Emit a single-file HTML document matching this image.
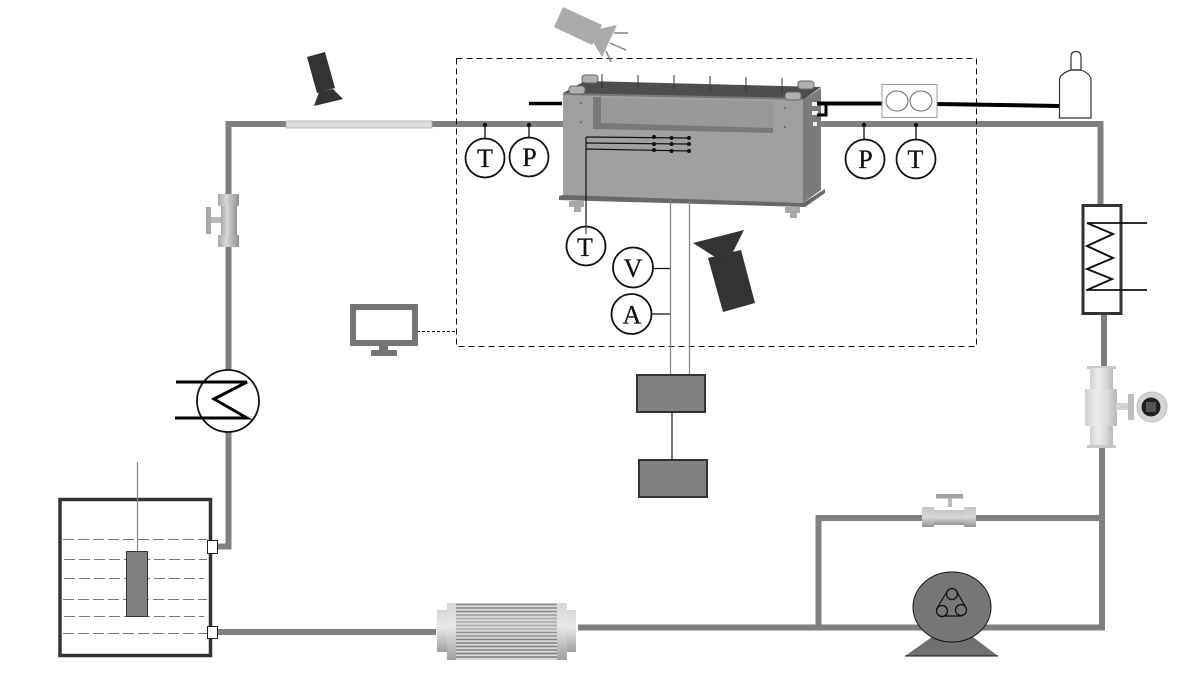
<!DOCTYPE html>
<html>
<head>
<meta charset="utf-8">
<style>
html,body{margin:0;padding:0;background:#fff;width:1186px;height:697px;overflow:hidden}
svg{display:block}
text{font-family:"Liberation Serif",serif;font-size:26px;fill:#111;text-anchor:middle;stroke:#111;stroke-width:.25px}
</style>
</head>
<body>
<svg width="1186" height="697" viewBox="0 0 1186 697" xmlns="http://www.w3.org/2000/svg">
<defs>
<linearGradient id="h" x1="0" x2="1" y1="0" y2="0"><stop offset="0" stop-color="#a8a8a8"/><stop offset=".4" stop-color="#d8d8d8"/><stop offset="1" stop-color="#909090"/></linearGradient>
<linearGradient id="hf" x1="0" x2="1" y1="0" y2="0"><stop offset="0" stop-color="#d0d0d0"/><stop offset=".35" stop-color="#ececec"/><stop offset=".7" stop-color="#dadada"/><stop offset="1" stop-color="#b8b8b8"/></linearGradient>
<linearGradient id="v" x1="0" x2="0" y1="0" y2="1"><stop offset="0" stop-color="#c4c4c4"/><stop offset=".5" stop-color="#d8d8d8"/><stop offset="1" stop-color="#949494"/></linearGradient>
<linearGradient id="fc" x1="0" x2="0" y1="0" y2="1"><stop offset="0" stop-color="#d6d6d6"/><stop offset=".4" stop-color="#e8e8e8"/><stop offset="1" stop-color="#a0a0a0"/></linearGradient>
</defs>

<!-- pipes -->
<g fill="none" stroke="#808080" stroke-width="6">
<path d="M286 124H228.500V370"/>
<path d="M228.500 432V546.500H218"/>
<path d="M432 124H563"/>
<path d="M821 124H1100.500V205"/>
<path d="M1104 314V366"/>
<path d="M1102 446V627.500H578"/>
<path d="M436 632H218"/>
<path d="M1102 518H818.500V628"/>
</g>

<!-- dashed box -->
<rect x="456.500" y="58.500" width="520" height="288" fill="none" stroke="#111" stroke-width="1" stroke-dasharray="6 4"/>
<path d="M417 331.500H456" stroke="#111" stroke-width="1" stroke-dasharray="3 2" fill="none"/>

<!-- glass section -->
<rect x="286" y="121" width="146" height="7" fill="#dedede" stroke="#aaa" stroke-width=".8"/>

<!-- cameras -->
<g fill="#aaaaaa">
<polygon points="563,7 554,27 592,45 602,25"/>
<polygon points="599,29 617,25 602,57 593,42"/>
</g>
<g stroke="#808080" stroke-width="1.500" fill="none">
<path d="M614 33H628M610 43L626 50M606 51L611 62"/>
</g>
<g fill="#333">
<polygon points="307,57 325,52 335,88 317,93"/>
<polygon points="319,92 333,89 343,99 314,106"/>
<polygon points="708,258 741,250 755,303 723,312"/>
<polygon points="693,243 744,230 733,252 718,259"/>
</g>

<!-- stack -->
<polygon points="563,93 585,81 821,87 803,100" fill="#4e4e4e"/>
<polygon points="563,93 803,98 803,101 563,96" fill="#777"/>
<polygon points="563,95 803,100 803,203 563,197" fill="#a0a0a0"/>
<polygon points="803,100 821,88 821,190 803,203" fill="#7a7a7a"/>
<polygon points="601,98 773,101 773,128 601,123" fill="#989898"/>
<polygon points="593,97 601,97 601,123 773,128 773,133 593,129" fill="#787878"/>
<polygon points="559,196 563,195 803,203 825,189 825,193 805,207 559,200" fill="#686868"/>
<g fill="#a8a8a8"><rect x="569" y="201" width="15" height="6"/><rect x="574" y="206" width="7" height="6"/><rect x="785" y="207" width="15" height="6"/><rect x="790" y="212" width="7" height="6"/></g>
<g fill="#b0b0b0" stroke="#666" stroke-width="1">
<rect x="582" y="75" width="16" height="8" rx="3"/><rect x="569" y="86" width="16" height="8" rx="3"/>
<rect x="798" y="81" width="16" height="8" rx="3"/><rect x="785" y="92" width="16" height="8" rx="3"/>
</g>
<g stroke="#333" stroke-width="1" fill="none"><path d="M602 74V88M638 75V88M674 75V90M710 76V91M746 77V92M782 78V93"/></g>
<g fill="#666"><circle cx="581" cy="103" r="1"/><circle cx="581" cy="122" r="1"/><circle cx="785" cy="108" r="1"/><circle cx="785" cy="127" r="1"/></g>
<g fill="#eee"><rect x="812" y="102" width="6" height="4"/><rect x="812" y="111" width="6" height="4"/><rect x="813" y="122" width="4" height="4"/></g>
<!-- wires -->
<g stroke="#111" stroke-width="1.200" fill="none">
<path d="M586 137L689 138M586 143L689 144M586 149L689 151"/>
<path d="M586 137V226"/>
</g>
<g fill="#111">
<circle cx="654" cy="137" r="2"/><circle cx="671.500" cy="138" r="2"/><circle cx="689" cy="138" r="2"/>
<circle cx="654" cy="144" r="2"/><circle cx="671.500" cy="144" r="2"/><circle cx="689" cy="144" r="2"/>
<circle cx="654" cy="150" r="2"/><circle cx="671.500" cy="151" r="2"/><circle cx="689" cy="151" r="2"/>
</g>

<!-- gas line -->
<g stroke="#000" fill="none">
<path d="M529 103.500H562" stroke-width="3.500"/>
<path d="M817 103.500H882" stroke-width="4"/>
<path d="M937 104L1059 106" stroke-width="4"/>
<path d="M817 115H826V104" stroke-width="3"/>
</g>
<rect x="882" y="84.500" width="55" height="33" fill="#fff" stroke="#999" stroke-width="1"/>
<ellipse cx="897" cy="101" rx="11" ry="10" fill="#fff" stroke="#666" stroke-width="1"/>
<ellipse cx="921" cy="101" rx="11" ry="10" fill="#fff" stroke="#666" stroke-width="1"/>
<path d="M1059.500 118V80Q1059.500 74 1071 70V57Q1071 51.500 1076 51.500Q1081 51.500 1081 57V70Q1091 74 1091 80V118Z" fill="#fff" stroke="#333" stroke-width="1.200"/>
<path d="M1071 70H1081" stroke="#333" stroke-width="1.500"/>

<!-- sensors -->
<g stroke="#111" stroke-width="1.300" fill="none">
<path d="M485 125V139M529 125V138M864 125V139M916 125V139"/>
<path d="M653 268.500H670M651 314H670"/>
</g>
<g fill="#111"><circle cx="485" cy="125" r="2.200"/><circle cx="529" cy="125" r="2.200"/><circle cx="864" cy="125" r="2.200"/><circle cx="916" cy="125" r="2.200"/></g>
<g fill="#fff" stroke="#111" stroke-width="1.800">
<circle cx="485" cy="158" r="19.500"/><circle cx="529" cy="157" r="19.500"/>
<circle cx="865" cy="159" r="19.500"/><circle cx="916" cy="159" r="19.500"/>
<circle cx="586" cy="246" r="19.500"/><circle cx="633" cy="267.500" r="20"/><circle cx="631.500" cy="314" r="20"/>
</g>
<path d="M586 226V234" stroke="#444" stroke-width="1.200"/>
<text x="485" y="167">T</text><text x="529.500" y="166">P</text>
<text x="865.500" y="168">P</text><text x="915.500" y="168">T</text>
<text x="585" y="256">T</text><text x="633" y="277">V</text><text x="632" y="323.500">A</text>

<!-- electric lines -->
<g stroke="#888" stroke-width="1.300" fill="none"><path d="M670.500 200V375M689.500 201V375"/></g>
<path d="M672 412V460" stroke="#222" stroke-width="1.200"/>
<rect x="637" y="375" width="68" height="37" fill="#808080" stroke="#333" stroke-width="2"/>
<rect x="639" y="460" width="68" height="37" fill="#808080" stroke="#333" stroke-width="2"/>

<!-- monitor -->
<rect x="353" y="307" width="62" height="36" fill="#fff" stroke="#747474" stroke-width="6"/>
<rect x="379" y="346" width="9" height="5" fill="#747474"/>
<rect x="371" y="350" width="26" height="6" rx="1" fill="#747474"/>

<!-- left valve -->
<rect x="221" y="200" width="16" height="42" fill="url(#h)"/>
<rect x="218" y="194" width="21" height="12" rx="1" fill="url(#h)"/>
<rect x="218" y="235" width="21" height="12" rx="1" fill="url(#h)"/>
<rect x="211" y="217" width="10" height="6" fill="#bbb"/>
<rect x="206" y="207" width="5" height="27" fill="#a8a8a8"/>

<!-- left HX -->
<circle cx="228" cy="401" r="31" fill="#fff" stroke="#111" stroke-width="1.800"/>
<path d="M176 382H247L214 399L247 418H175" fill="none" stroke="#000" stroke-width="3"/>

<!-- right HX -->
<rect x="1083" y="205.500" width="38" height="108" fill="#fff" stroke="#333" stroke-width="3"/>
<path d="M1087 223H1147M1086 290H1147" fill="none" stroke="#111" stroke-width="1.800"/>
<path d="M1087 223L1113 234L1087 246L1113 258L1087 269L1112 279L1087 290" fill="none" stroke="#111" stroke-width="2"/>

<!-- flow meter -->
<rect x="1087" y="366" width="29" height="3" fill="#c8c8c8"/>
<rect x="1090" y="368" width="23" height="21" fill="url(#hf)"/>
<rect x="1085" y="389" width="32" height="37" fill="url(#hf)"/>
<rect x="1090" y="426" width="23" height="20" fill="url(#hf)"/>
<rect x="1087" y="445" width="29" height="3" fill="#c8c8c8"/>
<rect x="1116" y="403" width="14" height="7" fill="#d2d2d2"/>
<rect x="1128" y="394" width="6" height="26" fill="#bfbfbf"/>
<circle cx="1152" cy="407" r="15" fill="#d4d4d4" stroke="#bbb" stroke-width="1"/>
<circle cx="1151" cy="407" r="9.500" fill="#222"/>
<rect x="1146" y="402" width="10" height="10" fill="#555"/>

<!-- bypass valve -->
<rect x="936" y="494" width="27" height="4.500" fill="#a0a0a0"/>
<rect x="948" y="498" width="4" height="9" fill="#bbb"/>
<rect x="930" y="510" width="38" height="15" fill="url(#v)"/>
<rect x="922" y="507" width="12" height="20" rx="1" fill="url(#v)"/>
<rect x="964" y="507" width="12" height="20" rx="1" fill="url(#v)"/>

<!-- pump -->
<polygon points="905,656 998,656 973,637 932,637" fill="#707070"/>
<path d="M905 656H998" stroke="#111" stroke-width="1"/>
<ellipse cx="952" cy="607" rx="39" ry="35" fill="#777" stroke="#111" stroke-width="1"/>
<path d="M948 590L936.500 609L942 616H961L966 608L956 590Z" fill="none" stroke="#111" stroke-width="1.200"/>
<g fill="#777" stroke="#111" stroke-width="1.300"><circle cx="952" cy="594" r="5.500"/><circle cx="942" cy="611" r="5.500"/><circle cx="961" cy="610" r="5.500"/></g>

<!-- filter -->
<rect x="437" y="610" width="10" height="42" fill="url(#fc)"/>
<rect x="447" y="603" width="9" height="57" fill="url(#fc)"/>
<rect x="456" y="603" width="101" height="57" fill="#d8d8d8"/>
<rect x="557" y="603" width="10" height="57" fill="url(#fc)"/>
<rect x="567" y="610" width="9" height="42" fill="url(#fc)"/>
<g stroke-width="1.500" fill="none">
<path stroke="#888" d="M456 604.500H557M456 608H557M456 611.500H557"/>
<path stroke="#999" d="M456 615H557"/>
<path stroke="#aaa" d="M456 618.500H557M456 622H557"/>
<path stroke="#aaa" d="M456 625.500H557M456 629H557"/>
<path stroke="#909090" d="M456 632.500H557M456 636H557"/>
<path stroke="#808080" d="M456 639.500H557M456 643H557M456 646.500H557M456 650H557"/>
<path stroke="#777" d="M456 653.500H557M456 657H557"/>
</g>

<!-- tank -->
<rect x="60" y="499.500" width="150.500" height="156" fill="#fff" stroke="#333" stroke-width="3.500"/>
<g stroke="#777" stroke-width="1" fill="none" stroke-dasharray="11 4">
<path d="M63 539.500H207M64 559.500H207M64 578.500H204M63 599.500H207M64 616.500H204M63 633.500H207"/>
</g>
<path d="M137.500 462V551" stroke="#888" stroke-width="1.200"/>
<rect x="126.500" y="551.500" width="21" height="65" fill="#808080" stroke="#333" stroke-width="1"/>
<rect x="207.500" y="540.500" width="10" height="13" fill="#fff" stroke="#222" stroke-width="1"/>
<rect x="207.500" y="626.500" width="10" height="12" fill="#fff" stroke="#222" stroke-width="1"/>
</svg>
</body>
</html>
